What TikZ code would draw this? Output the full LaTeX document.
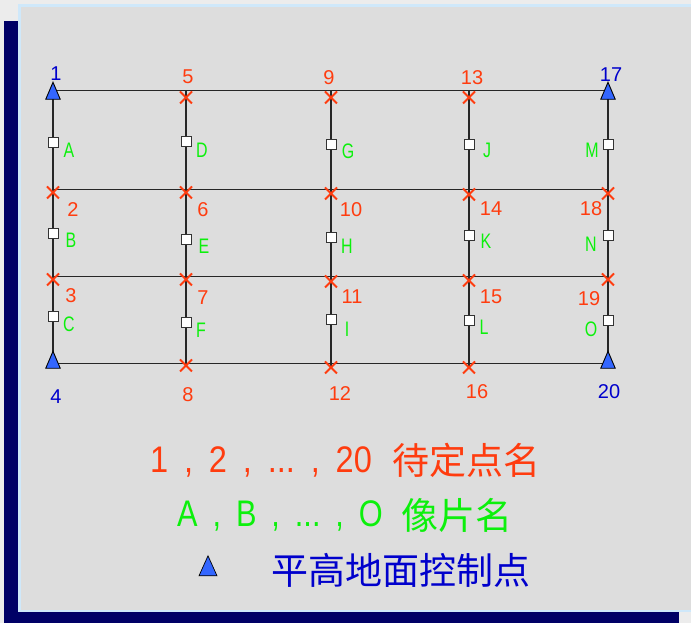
\documentclass[tikz,border=0pt]{standalone}
\usepackage{fontspec}
\setmainfont{Liberation Sans}
\newfontfamily\cjkfont{Noto Sans CJK SC}
\usepackage{tikz}
\usetikzlibrary{positioning}
\usetikzlibrary{backgrounds}
\usetikzlibrary{shapes.geometric}
\usetikzlibrary{shapes.misc}
\definecolor{navyc}{HTML}{000066}
\definecolor{panelc}{HTML}{DDDDDD}
\definecolor{edgec}{HTML}{CFE8FA}
\definecolor{pagec}{HTML}{ECECEC}
\definecolor{redc}{HTML}{FF3C0F}
\definecolor{greenc}{HTML}{0CF00C}
\definecolor{bluec}{HTML}{0000CC}
\definecolor{trifill}{HTML}{3366FF}
\newcommand{\narrowl}[1]{\scalebox{0.76}[1]{#1}}
\newcommand{\gapl}{\hspace{18pt}}
\tikzset{%
  gridline/.style = {draw=black!85,line width=1.1pt},
  rowend/.style = {inner sep=0pt,outer sep=0pt,minimum size=0pt},
  tri/.style = {isosceles triangle,shape border rotate=90,draw=black,fill=trifill,
        line width=0.9pt,isosceles triangle apex angle=46,isosceles triangle stretches,
        minimum height=17pt,minimum width=14.5pt,inner sep=0pt},
  crs/.style = {cross out,draw=redc,line width=2pt,minimum size=10pt,inner sep=0pt},
  sq/.style = {rectangle,draw=black!80,fill=white,line width=1pt,minimum size=10pt,inner sep=0pt},
  rlab/.style = {text=redc,font=\fontsize{20}{20}\selectfont,inner sep=0pt},
  blab/.style = {text=bluec,font=\fontsize{20}{20}\selectfont,inner sep=0pt},
  glab/.style = {text=greenc,font=\fontsize{21}{21}\selectfont,inner sep=0pt},
  legend/.style = {font=\fontsize{37}{37}\selectfont,inner sep=0pt}
}

\begin{document}
\begin{tikzpicture}[x=1pt,y=1pt,on grid]
    \useasboundingbox (0,0) rectangle (691,623);

    \begin{scope}[on background layer]
        \fill[pagec] (0,0) rectangle (691,623);
        \fill[navyc] (4,0) rectangle (679,602);
        \fill[edgec] (18,11) rectangle (691,619);
        \fill[panelc] (21,13) rectangle (691,616);
    \end{scope}

    % column 1
    \node[rowend] (w1) at (53,532.5) {};
    \node[tri] (p1) [below=4pt of w1] {};
    \node[sq] (sA) [below=52pt of w1] {};
    \node[crs] (p2) [below=50pt of sA] {};
    \node[sq] (sB) [below=41pt of p2] {};
    \node[crs] (p3) [below=46pt of sB] {};
    \node[sq] (sC) [below=37pt of p3] {};
    \node[tri] (p4) [below=47pt of sC] {};
    % column 2
    \node[rowend] (t5) [right=133pt of w1] {};
    \node[crs] (p5) [below=7pt of t5] {};
    \node[sq] (sD) [below=44pt of p5] {};
    \node[crs] (p6) [below=51pt of sD] {};
    \node[sq] (sE) [below=47pt of p6] {};
    \node[crs] (p7) [below=40pt of sE] {};
    \node[sq] (sF) [below=43pt of p7] {};
    \node[crs] (p8) [below=43pt of sF] {};
    % column 3
    \node[rowend] (t9) [right=145pt of t5] {};
    \node[crs] (p9) [below=7pt of t9] {};
    \node[sq] (sG) [below=47pt of p9] {};
    \node[crs] (p10) [below=49pt of sG] {};
    \node[sq] (sH) [below=44pt of p10] {};
    \node[crs] (p11) [below=44pt of sH] {};
    \node[sq] (sI) [below=38pt of p11] {};
    \node[crs] (p12) [below=48pt of sI] {};
    % column 4
    \node[rowend] (t13) [right=138pt of t9] {};
    \node[crs] (p13) [below=7pt of t13] {};
    \node[sq] (sJ) [below=47pt of p13] {};
    \node[crs] (p14) [below=50pt of sJ] {};
    \node[sq] (sK) [below=41pt of p14] {};
    \node[crs] (p15) [below=45pt of sK] {};
    \node[sq] (sL) [below=40pt of p15] {};
    \node[crs] (p16) [below=47pt of sL] {};
    % column 5
    \node[rowend] (t17) [right=139pt of t13] {};
    \node[tri] (p17) [below=4pt of t17] {};
    \node[sq] (sM) [below=54pt of t17] {};
    \node[crs] (p18) [below=49pt of sM] {};
    \node[sq] (sN) [below=42pt of p18] {};
    \node[crs] (p19) [below=44pt of sN] {};
    \node[sq] (sO) [below=41pt of p19] {};
    \node[tri] (p20) [below=43pt of sO] {};

    % row ends, the lines run just above the crosses
    \node[rowend] (w2) [above=3pt of p2] {};
    \node[rowend] (w3) [above=3pt of p3] {};
    \node[rowend] (e2) [above=4pt of p18] {};
    \node[rowend] (e3) [above=3pt of p19] {};

    \begin{scope}[on background layer]
        \draw[gridline] (w1) -- (t17);
        \draw[gridline] (w2) -- (e2);
        \draw[gridline] (w3) -- (e3);
        \draw[gridline] (p4.center) -- (p20.center);
        \draw[gridline] (w1) -- (p4.center);
        \draw[gridline] (t5) -- (p8.center);
        \draw[gridline] (t9) -- (p12.center);
        \draw[gridline] (t13) -- (p16.center);
        \draw[gridline] (t17) -- (p20.center);
    \end{scope}

    % point numbers
    \node[blab] (n1) [above right=17pt and 3pt of w1] {1};
    \node[rlab] (n5) [above right=14pt and 2pt of t5] {5};
    \node[rlab] (n9) [above left=13pt and 2pt of t9] {9};
    \node[rlab] (n13) [above right=13pt and 3pt of t13] {13};
    \node[blab] (n17) [above right=16pt and 3pt of t17] {17};
    \node[rlab] (n2) [below right=17pt and 20pt of p2] {2};
    \node[rlab] (n6) [below right=17pt and 17pt of p6] {6};
    \node[rlab] (n10) [below right=16pt and 20pt of p10] {10};
    \node[rlab] (n14) [below right=14pt and 22pt of p14] {14};
    \node[rlab] (n18) [below left=15pt and 17pt of p18] {18};
    \node[rlab] (n3) [below right=16pt and 18pt of p3] {3};
    \node[rlab] (n7) [below right=18pt and 17pt of p7] {7};
    \node[rlab] (n11) [below right=15pt and 21pt of p11] {11};
    \node[rlab] (n15) [below right=16pt and 22pt of p15] {15};
    \node[rlab] (n19) [below left=19pt and 19pt of p19] {19};
    \node[blab] (n4) [below right=33pt and 3pt of p4] {4};
    \node[rlab] (n8) [below right=29pt and 2pt of p8] {8};
    \node[rlab] (n12) [below right=26pt and 9pt of p12] {12};
    \node[rlab] (n16) [below right=24pt and 8pt of p16] {16};
    \node[blab] (n20) [below right=28pt and 1pt of p20] {20};

    % photo names
    \node[glab] (lA) [below right=8pt and 16pt of sA] {\narrowl{A}};
    \node[glab] (lB) [below right=7pt and 18pt of sB] {\narrowl{B}};
    \node[glab] (lC) [below right=8pt and 16pt of sC] {\narrowl{C}};
    \node[glab] (lD) [below right=9pt and 16pt of sD] {\narrowl{D}};
    \node[glab] (lE) [below right=7pt and 18pt of sE] {\narrowl{E}};
    \node[glab] (lF) [below right=8pt and 15pt of sF] {\narrowl{F}};
    \node[glab] (lG) [below right=7pt and 17pt of sG] {\narrowl{G}};
    \node[glab] (lH) [below right=9pt and 16pt of sH] {\narrowl{H}};
    \node[glab] (lI) [below right=10pt and 16pt of sI] {\narrowl{I}};
    \node[glab] (lJ) [below right=6pt and 18pt of sJ] {\narrowl{J}};
    \node[glab] (lK) [below right=6pt and 17pt of sK] {\narrowl{K}};
    \node[glab] (lL) [below right=7pt and 15pt of sL] {\narrowl{L}};
    \node[glab] (lM) [below left=6pt and 16pt of sM] {\narrowl{M}};
    \node[glab] (lN) [below left=9pt and 17pt of sN] {\narrowl{N}};
    \node[glab] (lO) [below left=9pt and 17pt of sO] {\narrowl{O}};

    % legend
    \node[legend,text=redc] (leg1) at (466,163) {\cjkfont 待定点名};
    \node[legend,text=redc] (num1) [below left=2pt and 205pt of leg1] {\scalebox{0.88}[1]{1\gapl,\gapl 2\gapl,\gapl...\gapl,\gapl 20}};
    \node[legend,text=greenc] (leg2) at (457,108) {\cjkfont 像片名};
    \node[legend,text=greenc] (num2) [below left=1pt and 177pt of leg2] {\scalebox{0.83}[1]{A\gapl,\gapl B\gapl,\gapl...\gapl,\gapl O}};
    \node[legend,text=bluec] (leg3) at (401,53) {\cjkfont 平高地面控制点};
    \node[tri,minimum height=20pt,minimum width=18pt,line width=0.7pt] (key) [left=193pt of leg3] {};
\end{tikzpicture}
\end{document}
